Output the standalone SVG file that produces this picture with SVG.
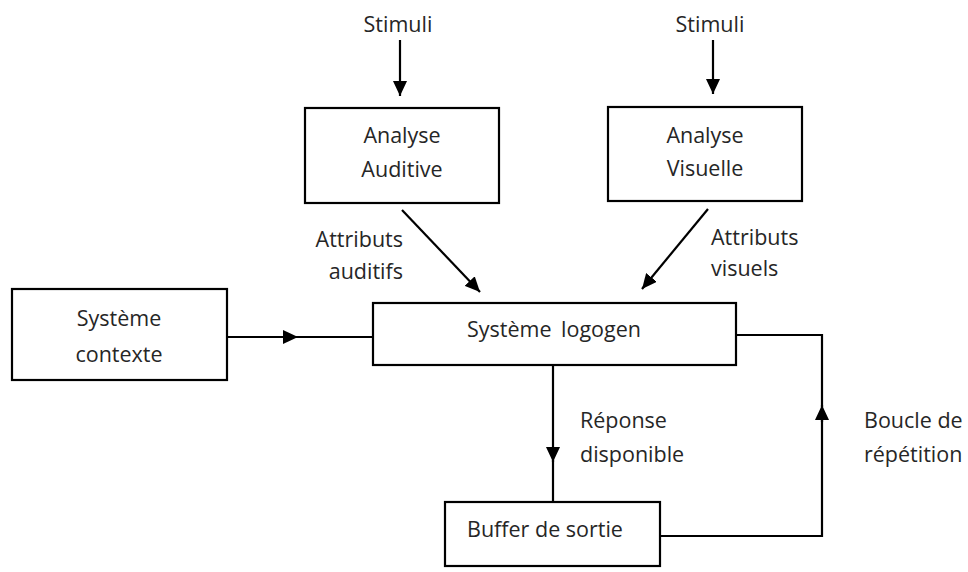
<svg xmlns="http://www.w3.org/2000/svg" width="968" height="572" viewBox="0 0 968 572">
<style>
  .box { fill: #ffffff; stroke: #000000; stroke-width: 2.2; }
  .lbl { font-family: "Open Sans", "Noto Sans", sans-serif; font-size: 21.5px; fill: #262626; }
  .c { text-anchor: middle; }
  .ln { fill: none; stroke: #000000; stroke-width: 2.2; }
</style>
<defs>
  <marker id="ah" markerUnits="userSpaceOnUse" markerWidth="16" markerHeight="14" refX="15" refY="7" orient="auto">
    <path d="M0,0 L15,7 L0,14 Z" fill="#000000"/>
  </marker>
</defs>
<rect width="968" height="572" fill="#ffffff"/>

<g id="stimuli-left"><text class="lbl c" x="398" y="32">Stimuli</text></g>
<g id="stimuli-right"><text class="lbl c" x="710" y="32">Stimuli</text></g>

<g id="analyse-auditive">
  <rect class="box" x="305" y="108" width="194" height="95"/>
  <text class="lbl c" x="402" y="143">Analyse</text>
  <text class="lbl c" x="402" y="177">Auditive</text>
</g>
<g id="analyse-visuelle">
  <rect class="box" x="608" y="107" width="194" height="94"/>
  <text class="lbl c" x="705" y="143">Analyse</text>
  <text class="lbl c" x="705" y="176">Visuelle</text>
</g>
<g id="systeme-contexte">
  <rect class="box" x="12" y="289" width="215" height="91"/>
  <text class="lbl c" x="119" y="326">Système</text>
  <text class="lbl c" x="119" y="362">contexte</text>
</g>
<g id="systeme-logogen">
  <rect class="box" x="373" y="303" width="363" height="62"/>
  <text class="lbl c" x="554" y="337" word-spacing="4">Système logogen</text>
</g>
<g id="buffer-sortie">
  <rect class="box" x="445" y="502" width="215" height="64"/>
  <text class="lbl" x="467" y="537">Buffer de sortie</text>
</g>

<g id="labels">
  <text class="lbl" x="403" y="247" text-anchor="end">Attributs</text>
  <text class="lbl" x="403" y="279" text-anchor="end">auditifs</text>
  <text class="lbl" x="711" y="245">Attributs</text>
  <text class="lbl" x="711" y="276">visuels</text>
  <text class="lbl" x="580" y="428">Réponse</text>
  <text class="lbl" x="580" y="462">disponible</text>
  <text class="lbl" x="864" y="428">Boucle de</text>
  <text class="lbl" x="864" y="462">répétition</text>
</g>

<g id="connectors">
  <line class="ln" x1="400" y1="40" x2="400" y2="96" marker-end="url(#ah)"/>
  <line class="ln" x1="713" y1="40" x2="713" y2="94" marker-end="url(#ah)"/>
  <line class="ln" x1="402" y1="210" x2="480" y2="292" marker-end="url(#ah)"/>
  <line class="ln" x1="708" y1="209" x2="642" y2="289" marker-end="url(#ah)"/>
  <line class="ln" x1="227" y1="337" x2="298" y2="337" marker-end="url(#ah)"/>
  <line class="ln" x1="296" y1="337" x2="373" y2="337"/>
  <line class="ln" x1="553" y1="365" x2="553" y2="462" marker-end="url(#ah)"/>
  <line class="ln" x1="553" y1="460" x2="553" y2="502"/>
  <polyline class="ln" points="660,536 822,536 822,420"/>
  <line class="ln" x1="822" y1="422" x2="822" y2="405" marker-end="url(#ah)"/>
  <polyline class="ln" points="822,407 822,335 736,335"/>
</g>
</svg>
